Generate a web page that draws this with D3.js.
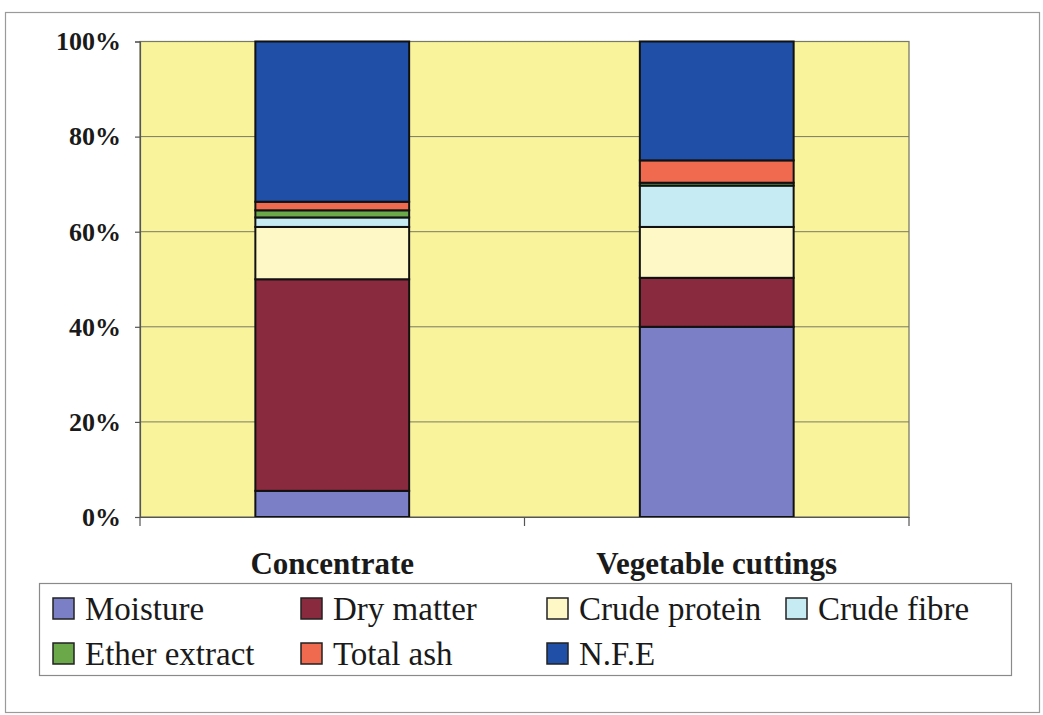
<!DOCTYPE html>
<html>
<head>
<meta charset="utf-8">
<script src="https://cdn.jsdelivr.net/npm/d3@7/dist/d3.min.js"></script>
<style>
  html, body { margin: 0; padding: 0; background: #ffffff; }
  svg { display: block; }
</style>
</head>
<body>
<svg id="chart" width="1043" height="715" font-family="Liberation Serif"></svg>
<script>
// Feed composition (% of total) for the two feeds
const categories = ["Concentrate", "Vegetable cuttings"];
const components = ["Moisture", "Dry matter", "Crude protein", "Crude fibre", "Ether extract", "Total ash", "N.F.E"];
const moisture     = [5.5, 40.0];
const dryMatter    = [44.5, 10.3];
const crudeProtein = [11.0, 10.7];
const crudeFibre   = [2.0, 8.7];
const etherExtract = [1.5, 0.6];
const totalAsh     = [1.8, 4.7];
const nfe          = [33.7, 25.0];
const yTicks = [0, 20, 40, 60, 80, 100];

const colors = ["#7b7fc6", "#8a2a3e", "#fdf8c6", "#c6ebf3", "#6aa84a", "#f06a50", "#1f4fa6"];

const rows = categories.map((c, i) => {
  const r = { category: c };
  [moisture, dryMatter, crudeProtein, crudeFibre, etherExtract, totalAsh, nfe]
    .forEach((arr, k) => { r[components[k]] = arr[i]; });
  return r;
});

const svg = d3.select("#chart");
const plot = { left: 140, right: 909, top: 41.5, bottom: 517 };

// Outer frame
svg.append("rect")
  .attr("x", 5.5).attr("y", 12.5)
  .attr("width", 1034).attr("height", 700)
  .attr("fill", "#ffffff")
  .attr("stroke", "#9a9a9a").attr("stroke-width", 1.2);

const xBand = d3.scaleBand().domain(categories).range([plot.left, plot.right]);
const y = d3.scaleLinear().domain([0, 100]).range([plot.bottom, plot.top]);
const color = d3.scaleOrdinal().domain(components).range(colors);

// Plot background
svg.append("rect")
  .attr("x", plot.left).attr("y", plot.top)
  .attr("width", plot.right - plot.left).attr("height", plot.bottom - plot.top)
  .attr("fill", "#f9f49c")
  .attr("stroke", "#6e6e5a").attr("stroke-width", 1.2);

// Gridlines
svg.append("g")
  .selectAll("line")
  .data(yTicks.filter(t => t > 0))
  .join("line")
  .attr("x1", plot.left).attr("x2", plot.right)
  .attr("y1", d => y(d)).attr("y2", d => y(d))
  .attr("stroke", "#7a7a62").attr("stroke-width", 1);

// Stacked bars
const stack = d3.stack().keys(components)(rows);
const barW = xBand.bandwidth() * 0.4;
svg.append("g")
  .selectAll("g")
  .data(stack)
  .join("g")
  .attr("fill", d => color(d.key))
  .selectAll("rect")
  .data(d => d)
  .join("rect")
  .attr("x", d => xBand(d.data.category) + (xBand.bandwidth() - barW) / 2)
  .attr("width", barW)
  .attr("y", d => y(d[1]))
  .attr("height", d => y(d[0]) - y(d[1]))
  .attr("stroke", "#111111")
  .attr("stroke-width", 2);

// Y axis
const yAxis = d3.axisLeft(y).tickValues(yTicks).tickSize(5).tickPadding(14).tickFormat(d => d + "%");
const gy = svg.append("g").attr("transform", `translate(${plot.left},0)`).call(yAxis);
gy.attr("font-family", null).attr("font-size", null);
gy.select(".domain").attr("stroke", "#555").attr("stroke-width", 1.2);
gy.selectAll(".tick line").attr("stroke", "#555").attr("stroke-width", 1.2);
gy.selectAll(".tick text")
  .style("font-family", "Liberation Serif")
  .style("font-weight", "bold")
  .style("font-size", "26px")
  .attr("fill", "#1a1a1a");

// X axis
const xAxis = d3.axisBottom(xBand).tickSize(0).tickPadding(0).tickFormat(() => "");
const gx = svg.append("g").attr("transform", `translate(0,${plot.bottom})`).call(xAxis);
gx.attr("font-family", null).attr("font-size", null);
gx.select(".domain").attr("stroke", "#555").attr("stroke-width", 1.2);
// category dividers below the axis
const dividers = [plot.left, ...categories.slice(1).map(c => xBand(c)), plot.right];
gx.selectAll(".divider")
  .data(dividers)
  .join("line")
  .attr("class", "divider")
  .attr("x1", d => d).attr("x2", d => d)
  .attr("y1", 0).attr("y2", 9)
  .attr("stroke", "#555").attr("stroke-width", 1.2);

svg.append("g")
  .selectAll("text")
  .data(categories)
  .join("text")
  .attr("x", d => xBand(d) + xBand.bandwidth() / 2)
  .attr("y", 574)
  .attr("text-anchor", "middle")
  .style("font-family", "Liberation Serif")
  .style("font-weight", "bold")
  .style("font-size", "31px")
  .attr("fill", "#1a1a1a")
  .text(d => d);

// Legend
const legend = svg.append("g");
legend.append("rect")
  .attr("x", 39.5).attr("y", 583.5)
  .attr("width", 972).attr("height", 92)
  .attr("fill", "#ffffff")
  .attr("stroke", "#8a8a8a").attr("stroke-width", 1.2);

const colX = [53, 301, 547, 786];
const rowY = [620, 665];
const items = legend.selectAll("g.item")
  .data(components)
  .join("g")
  .attr("class", "item")
  .attr("transform", (d, i) => `translate(${colX[i % 4]},${rowY[Math.floor(i / 4)]})`);
items.append("rect")
  .attr("x", 0).attr("y", -22)
  .attr("width", 21).attr("height", 21)
  .attr("fill", d => color(d))
  .attr("stroke", "#222").attr("stroke-width", 1.5);
items.append("text")
  .attr("x", 32).attr("y", 0)
  .style("font-family", "Liberation Serif")
  .style("font-size", "33px")
  .attr("fill", "#1a1a1a")
  .text(d => d);
</script>
</body>
</html>
